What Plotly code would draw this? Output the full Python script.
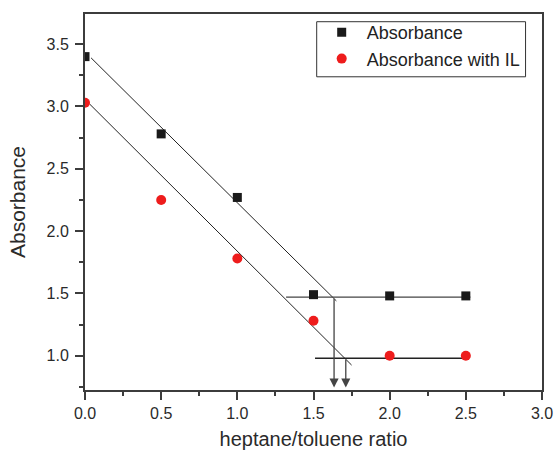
import plotly.graph_objects as go

# ---- data ----
ratio = [0.0, 0.5, 1.0, 1.5, 2.0, 2.5]
absorbance = [3.40, 2.78, 2.27, 1.49, 1.48, 1.48]
absorbance_il = [3.03, 2.25, 1.78, 1.28, 1.00, 1.00]

# guide lines (fits and plateaus)
fit1_x = [0.04, 1.65]
fit1_y = [3.39, 1.44]
fit2_x = [0.03, 1.75]
fit2_y = [3.02, 0.925]
plateau1_x = [1.32, 2.53]
plateau1_y = [1.47, 1.47]
plateau2_x = [1.51, 2.52]
plateau2_y = [0.98, 0.98]

# arrows: x position, start y, end y
arrow_x = [1.635, 1.712]
arrow_y0 = [1.47, 0.98]
arrow_y1 = [0.745, 0.745]

x_ticks = [0.0, 0.5, 1.0, 1.5, 2.0, 2.5, 3.0]
y_ticks = [1.0, 1.5, 2.0, 2.5, 3.0, 3.5]

FONT = "Liberation Sans, Arial, sans-serif"
AXC = "#3c3c3c"
TXT = "#2a2a2a"

fig = go.Figure()

for lx, ly, c, w in [(fit1_x, fit1_y, "#222222", 1),
                     (fit2_x, fit2_y, "#222222", 1),
                     (plateau1_x, plateau1_y, "#444444", 1.4),
                     (plateau2_x, plateau2_y, "#222222", 1.4)]:
    fig.add_trace(go.Scatter(x=lx, y=ly, mode="lines",
                             line=dict(color=c, width=w),
                             showlegend=False, hoverinfo="skip"))

fig.add_trace(go.Scatter(x=ratio, y=absorbance, mode="markers", name="Absorbance",
                         marker=dict(symbol="square", size=9, color="#1a1a1a")))
fig.add_trace(go.Scatter(x=ratio, y=absorbance_il, mode="markers", name="Absorbance with IL",
                         marker=dict(symbol="circle", size=10, color="#ee1c1c")))

for ax_, y0, y1 in zip(arrow_x, arrow_y0, arrow_y1):
    fig.add_annotation(x=ax_, y=y1, ax=ax_, ay=y0, xref="x", yref="y",
                       axref="x", ayref="y", text="", showarrow=True,
                       arrowhead=2, arrowsize=1.4, arrowwidth=1.3,
                       arrowcolor="#444444")

# legend frame
fig.add_shape(type="rect", xref="paper", yref="paper",
              x0=0.507, x1=0.964, y0=0.833, y1=0.9795,
              line=dict(color="#333333", width=1), fillcolor="rgba(0,0,0,0)", layer="above")

fig.update_layout(
    width=556, height=450,
    margin=dict(l=85, r=14, t=14, b=60),
    paper_bgcolor="white", plot_bgcolor="white",
    font=dict(family=FONT, color=TXT, size=16),
    legend=dict(x=0.507, y=1.0, xanchor="left", yanchor="top",
                borderwidth=0, bgcolor="rgba(0,0,0,0)",
                font=dict(size=18, family=FONT, color="#222222"),
                itemwidth=40, tracegroupgap=0),
)

fig.update_xaxes(range=[0, 3.0], tickvals=x_ticks, ticktext=[f"{v:.1f}" for v in x_ticks],
                 showline=True, linecolor=AXC, linewidth=2, mirror=True,
                 ticks="outside", ticklen=8, tickwidth=1.5, tickcolor=AXC,
                 minor=dict(ticks="outside", ticklen=4, tickwidth=1.5, tickcolor=AXC, dtick=0.25),
                 showgrid=False, zeroline=False, automargin=False,
                 tickfont=dict(size=16, family=FONT, color=TXT),
                 title=dict(text="heptane/toluene ratio", font=dict(size=20, family=FONT, color=TXT)))

fig.update_yaxes(range=[0.725, 3.742], tickvals=y_ticks, ticktext=[f"{v:.1f}" for v in y_ticks],
                 showline=True, linecolor=AXC, linewidth=2, mirror=True,
                 ticks="outside", ticklen=8, tickwidth=1.5, tickcolor=AXC,
                 minor=dict(ticks="outside", ticklen=4, tickwidth=1.5, tickcolor=AXC, dtick=0.25),
                 showgrid=False, zeroline=False, ticklabelstandoff=3, automargin=False,
                 tickfont=dict(size=16, family=FONT, color=TXT),
                 title=dict(text="Absorbance", font=dict(size=21, family=FONT, color=TXT)))

fig.write_html("out.html")
